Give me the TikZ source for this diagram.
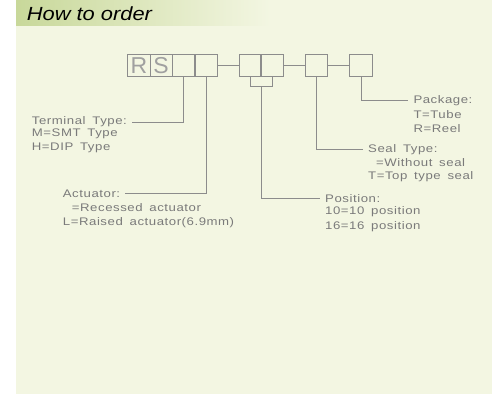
\documentclass[tikz,border=0pt]{standalone}
\usepackage{fontspec}
\setmainfont{Liberation Sans}
\newfontfamily\cadfont[FakeStretch=1.2,LetterSpace=5,WordSpace=1.6]{Liberation Sans}
\newfontfamily\titlefont[FakeStretch=1.15]{Liberation Sans}
\usetikzlibrary{calc}
\definecolor{panel}{HTML}{F3F6E2}
\definecolor{barleft}{HTML}{C8D89A}
\definecolor{ink}{HTML}{7A7A7A}
\definecolor{wire}{HTML}{8C8C8C}
\definecolor{rsgray}{HTML}{A0A0A0}
\begin{document}
\begin{tikzpicture}[x=1pt,y=-1pt,
  cell/.style={draw=wire, line width=0.9pt, minimum width=22.3pt, minimum height=22.7pt, inner sep=0pt, outer sep=0pt, font=\fontsize{23}{23}\selectfont, text=rsgray},
  lbl/.style={anchor=west, inner xsep=5pt, inner ysep=1pt, font=\cadfont\fontsize{11}{11}\selectfont, text=ink},
  lead/.style={draw=wire, line width=0.8pt}]
\useasboundingbox (0,0) rectangle (495,394);
\fill[white] (0,0) rectangle (495,394);
\fill[panel] (16,0) rectangle (492,394);
\shade[left color=barleft, right color=panel] (16,0) rectangle (270,25);
\node[anchor=base west, font=\titlefont\itshape\fontsize{19}{19}\selectfont, inner sep=0pt] (title) at (26.7,20.7) {How to order};
% code boxes
\node[cell] (b1) at (138.85,65.5) {R};
\node[cell] (b2) at (161.15,65.5) {S};
\node[cell] (b3) at (183.65,65.5) {};
\node[cell] (b4) at (206.15,65.5) {};
\node[cell] (b5) at (250.3,65.5) {};
\node[cell] (b6) at (272,65.5) {};
\node[cell] (b7) at (316.65,65.5) {};
\node[cell] (b8) at (361,65.5) {};
\draw[lead] (b4.east) -- (b5.west);
\draw[lead] (b6.east) -- (b7.west);
\draw[lead] (b7.east) -- (b8.west);
\coordinate (brk) at ($(b5.south east)+(0,9.3)$);
\draw[lead] (b5.south) |- (brk) -| (b6.south);
% labels
\node[lbl] (termhead) at (26.7,122) {Terminal Type:};
\node[lbl] (term1) at (26.7,134) {M=SMT Type};
\node[lbl] (term2) at (26.7,147.5) {H=DIP Type};
\node[lbl] (acthead) at (57.7,193.5) {Actuator:};
\node[lbl] (act1) at (66.7,208) {=Recessed actuator};
\node[lbl] (act2) at (57.7,223) {L=Raised actuator(6.9mm)};
\node[lbl] (poshead) at (320,198.5) {Position:};
\node[lbl] (pos1) at (320,212) {10=10 position};
\node[lbl] (pos2) at (320,226.5) {16=16 position};
\node[lbl] (sealhead) at (363,149.3) {Seal Type:};
\node[lbl] (seal1) at (371,163) {=Without seal};
\node[lbl] (seal2) at (363,177) {T=Top type seal};
\node[lbl] (pkghead) at (408.3,100.7) {Package:};
\node[lbl] (pkg1) at (408.3,115) {T=Tube};
\node[lbl] (pkg2) at (408.3,129) {R=Reel};
% leaders
\draw[lead] (b3.south) |- (termhead.east);
\draw[lead] (b4.south) |- (acthead.east);
\draw[lead] (brk) |- (poshead.west);
\draw[lead] (b7.south) |- (sealhead.west);
\draw[lead] (b8.south) |- (pkghead.west);
\end{tikzpicture}
\end{document}
